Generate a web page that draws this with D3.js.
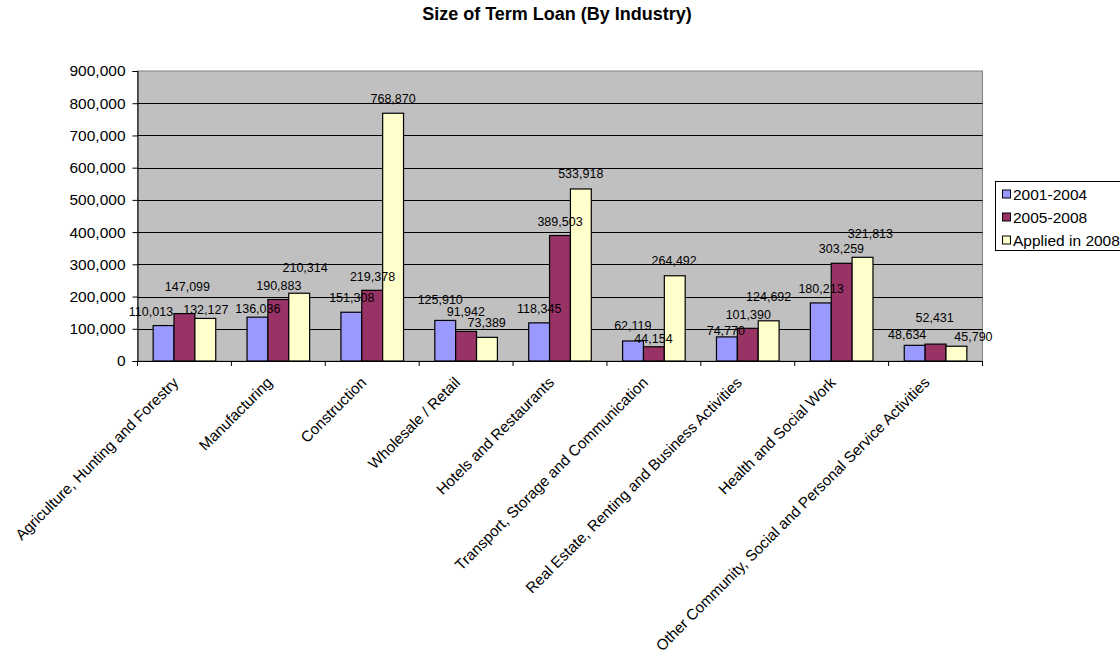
<!DOCTYPE html>
<html>
<head>
<meta charset="utf-8">
<script src="https://cdn.jsdelivr.net/npm/d3@7"></script>
<style>
  html, body { margin: 0; padding: 0; background: #fff; }
  svg { display: block; font-family: "Liberation Sans", Arial, sans-serif; }
</style>
</head>
<body>
<svg id="chart" width="1120" height="663"></svg>
<script>
// ---------- data ----------
const title = "Size of Term Loan (By Industry)";
const categories = [
  "Agriculture, Hunting and Forestry",
  "Manufacturing",
  "Construction",
  "Wholesale / Retail",
  "Hotels and Restaurants",
  "Transport, Storage and Communication",
  "Real Estate, Renting and Business Activities",
  "Health and Social Work",
  "Other Community, Social and Personal Service Activities"
];
const seriesNames = ["2001-2004", "2005-2008", "Applied in 2008"];
const values2001_2004 = [110013, 136036, 151308, 125910, 118345, 62119, 74770, 180213, 48634];
const values2005_2008 = [147099, 190883, 219378, 91942, 389503, 44154, 101390, 303259, 52431];
const valuesApplied2008 = [132127, 210314, 768870, 73389, 533918, 264492, 124692, 321813, 45790];
const yTickValues = [0, 100000, 200000, 300000, 400000, 500000, 600000, 700000, 800000, 900000];

// ---------- layout / style (label nudges as in the original) ----------
const colors = ["#9999FF", "#993366", "#FFFFCC"];
const labelDx = [
  [-12.6, 0.4, 0.4, -5, 0.1, -0.2, -1.1, 0.2, -7.5],
  [3, 0.5, 0.3, -0.3, 0, -0.4, 0.5, -0.2, -0.9],
  [0.5, 5.9, 0, -0.3, -0.1, -0.6, 0, 7.9, 17]
];
const labelDy = [
  [-9.9, -3.9, -10.5, -16, -9.6, -11, -1.9, -10.2, -6.3],
  [-23, -9.5, -9.6, -15.7, -9.8, -4.1, -9.3, -10.6, -21.8],
  [-4.4, -21.5, -10, -10.7, -10.7, -10.8, -20.1, -19, -5.5]
];

const allSeries = [values2001_2004, values2005_2008, valuesApplied2008];

const plot = { left: 137.5, right: 982.5, top: 71, bottom: 361 };
const axisFont = 15.5;

const svg = d3.select("#chart");

const x = d3.scaleBand().domain(categories).range([plot.left, plot.right]).padding(0);
const step = x.step();
const bw = step / 4.5;
const xs = d3.scaleBand().domain(seriesNames).range([0.75 * bw, 3.75 * bw]).padding(0);
const y = d3.scaleLinear().domain([0, 900000]).range([plot.bottom, plot.top]);

// title
svg.append("text")
  .attr("x", 557).attr("y", 20)
  .attr("text-anchor", "middle")
  .attr("font-size", 18).attr("font-weight", "bold")
  .text(title);

// plot background
svg.append("rect")
  .attr("x", plot.left).attr("y", plot.top)
  .attr("width", plot.right - plot.left).attr("height", plot.bottom - plot.top)
  .attr("fill", "#C0C0C0").attr("stroke", "#808080").attr("stroke-width", 1);

// gridlines
svg.append("g")
  .selectAll("line")
  .data(yTickValues.filter(v => v > 0 && v < 900000))
  .join("line")
  .attr("x1", plot.left).attr("x2", plot.right)
  .attr("y1", d => Math.round(y(d)) + 0.5).attr("y2", d => Math.round(y(d)) + 0.5)
  .attr("stroke", "#000").attr("stroke-width", 1);

// bars
const groups = svg.append("g").selectAll("g")
  .data(seriesNames)
  .join("g")
  .attr("fill", (d, i) => colors[i]);

groups.each(function(sName, si) {
  d3.select(this).selectAll("rect")
    .data(allSeries[si])
    .join("rect")
    .attr("x", (d, ci) => x(categories[ci]) + xs(sName))
    .attr("y", d => y(d))
    .attr("width", xs.bandwidth())
    .attr("height", d => y(0) - y(d))
    .attr("stroke", "#000").attr("stroke-width", 1.2);
});

// y axis
const yAxis = d3.axisLeft(y)
  .tickValues(yTickValues)
  .tickSize(5)
  .tickPadding(7)
  .tickFormat(d3.format(","));
const yg = svg.append("g").attr("transform", `translate(${plot.left},0)`).call(yAxis);
yg.select(".domain").attr("stroke", "#000");
yg.selectAll(".tick line").attr("stroke", "#000");
yg.selectAll(".tick text").attr("font-size", axisFont).attr("fill", "#000")
  .attr("font-family", "Liberation Sans, Arial, sans-serif");

// x axis
const xAxis = d3.axisBottom(x).tickSize(0).tickFormat("");
const xg = svg.append("g").attr("transform", `translate(0,${plot.bottom})`).call(xAxis);
xg.select(".domain").attr("stroke", "#000");
const boundaries = categories.map(c => x(c)).concat([plot.right]);
xg.selectAll("line.bt").data(boundaries).join("line")
  .attr("class", "bt")
  .attr("x1", d => d).attr("x2", d => d)
  .attr("y1", 0).attr("y2", 5)
  .attr("stroke", "#000");

// category labels
svg.append("g").selectAll("text")
  .data(categories)
  .join("text")
  .attr("transform", d => `translate(${x(d) + step / 2 - 5},${plot.bottom + 22.5}) rotate(-45)`)
  .attr("text-anchor", "end")
  .attr("font-size", 15.2)
  .text(d => d);

// data labels
const fmt = d3.format(",");
seriesNames.forEach((sName, si) => {
  svg.append("g").selectAll("text")
    .data(allSeries[si])
    .join("text")
    .attr("x", (d, ci) => x(categories[ci]) + xs(sName) + xs.bandwidth() / 2 + labelDx[si][ci])
    .attr("y", (d, ci) => y(d) + labelDy[si][ci])
    .attr("text-anchor", "middle")
    .attr("font-size", 12.5)
    .text(d => fmt(d));
});

// legend
const legend = svg.append("g");
legend.append("rect")
  .attr("x", 995.5).attr("y", 181.5)
  .attr("width", 140).attr("height", 69)
  .attr("fill", "#fff").attr("stroke", "#000");
seriesNames.forEach((s, i) => {
  const cy = 194 + i * 23;
  legend.append("rect")
    .attr("x", 1002.5).attr("y", cy - 4)
    .attr("width", 8).attr("height", 8)
    .attr("fill", colors[i]).attr("stroke", "#000");
  legend.append("text")
    .attr("x", 1013).attr("y", cy)
    .attr("dy", "0.36em")
    .attr("font-size", axisFont)
    .text(s);
});
</script>
</body>
</html>
